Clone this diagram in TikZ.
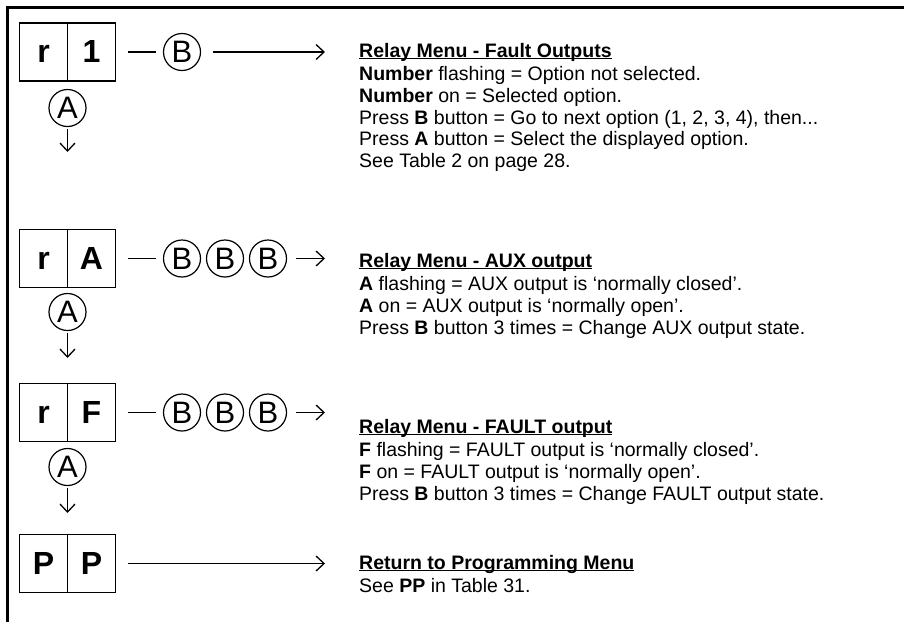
\documentclass[tikz,border=0pt]{standalone}
\usepackage{fontspec}
\setmainfont{Liberation Sans}
\usetikzlibrary{arrows.meta}

\tikzset{
  cell/.style={draw, line width=1.6pt, minimum width=48pt, minimum height=58pt, inner sep=0pt, text height=23pt, text depth=2pt, font=\fontsize{32}{32}\selectfont\bfseries},
  btn/.style={draw, circle, line width=1.2pt, minimum size=37pt, inner sep=0pt, font=\fontsize{31}{31}\selectfont},
  link/.style={line width=1.3pt},
  goto/.style={line width=1.3pt, -{Straight Barb[length=8pt,width=15pt,line width=1.3pt]}},
  note/.style={anchor=north west, align=left, inner sep=0pt, font=\fontsize{19.5}{21.6}\selectfont},
}
\newcommand{\heading}[1]{\underline{\smash{\textbf{#1}}}}

\begin{document}
\begin{tikzpicture}[x=1pt, y=-1pt]
		\useasboundingbox (0,0) rectangle (904,622);
		\draw[line width=2.5pt] (7.5,622) -- (7.5,7.5) -- (904,7.5);
		% relay menu boxes
		\node[cell] (r1l) at (43.5,52) {r};
		\node[cell] (r1r) at (91.5,52) {1};
		\node[cell] (rAl) at (43.5,258.5) {r};
		\node[cell] (rAr) at (91.5,258.5) {A};
		\node[cell] (rFl) at (43.5,412.5) {r};
		\node[cell] (rFr) at (91.5,412.5) {F};
		\node[cell] (PPl) at (43.5,563.5) {P};
		\node[cell] (PPr) at (91.5,563.5) {P};
		% A buttons
		\node[btn] (a1) at (67.5,108) {A};
		\node[btn] (a2) at (67.5,312) {A};
		\node[btn] (a3) at (67.5,467) {A};
		\coordinate (d1) at (67.5,152);
		\coordinate (d2) at (67.5,358);
		\coordinate (d3) at (67.5,513);
		\draw[goto, shorten <=2pt] (a1) -- (d1);
		\draw[goto, shorten <=2pt] (a2) -- (d2);
		\draw[goto, shorten <=2pt] (a3) -- (d3);
		% B buttons
		\node[btn] (b1) at (182,52) {B};
		\node[btn] (b21) at (182,258.5) {B};
		\node[btn] (b22) at (225,258.5) {B};
		\node[btn] (b23) at (268,258.5) {B};
		\node[btn] (b31) at (182,412.5) {B};
		\node[btn] (b32) at (225,412.5) {B};
		\node[btn] (b33) at (268,412.5) {B};
		\coordinate (e1) at (325,52);
		\coordinate (e2) at (325,258.5);
		\coordinate (e3) at (325,412.5);
		\coordinate (e4) at (325,563.5);
		\draw[link, shorten <=12pt, shorten >=7pt] (r1r) -- (b1);
		\draw[link, shorten <=12pt, shorten >=7pt] (rAr) -- (b21);
		\draw[link, shorten <=12pt, shorten >=7pt] (rFr) -- (b31);
		\draw[goto, shorten <=12pt] (b1) -- (e1);
		\draw[goto, shorten <=9pt] (b23) -- (e2);
		\draw[goto, shorten <=9pt] (b33) -- (e3);
		\draw[goto, shorten <=12pt] (PPr) -- (e4);
		% descriptions
		\node[note] (n1) at (359,57) {\heading{Relay Menu - Fault Outputs}\\[2pt]
			\textbf{Number} flashing = Option not selected.\\
			\textbf{Number} on = Selected option.\\
			Press \textbf{B} button = Go to next option (1, 2, 3, 4), then...\\
			Press \textbf{A} button = Select the displayed option.\\
			See Table 2 on page 28.};
		\node[note] (n2) at (359,267) {\heading{Relay Menu - AUX output}\\[2pt]
			\textbf{A} flashing = AUX output is `normally closed'.\\
			\textbf{A} on = AUX output is `normally open'.\\
			Press \textbf{B} button 3 times = Change AUX output state.};
		\node[note] (n3) at (359,433) {\heading{Relay Menu - FAULT output}\\[2pt]
			\textbf{F} flashing = FAULT output is `normally closed'.\\
			\textbf{F} on = FAULT output is `normally open'.\\
			Press \textbf{B} button 3 times = Change FAULT output state.};
		\node[note] (n4) at (359,569) {\heading{Return to Programming Menu}\\[2pt]
			See \textbf{PP} in Table 31.};
	\end{tikzpicture}
\end{document}
